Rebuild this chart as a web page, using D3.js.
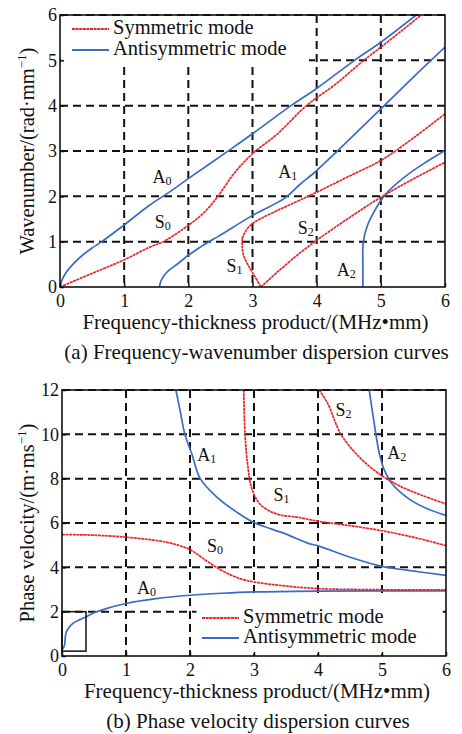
<!DOCTYPE html>
<html>
<head>
<meta charset="utf-8">
<script src="https://cdn.jsdelivr.net/npm/d3@7"></script>
<style>
  body { margin: 0; background: #fff; }
  text { font-family: "Liberation Serif", "Times New Roman", serif; fill: #111; }
</style>
</head>
<body>
<div id="chart"></div>
<script>
// Frequency-thickness product (MHz·mm) vs wavenumber (rad/mm)
const topA0 = [[0,0],[0.03,0.15],[0.1,0.33],[0.2,0.5],[0.35,0.7],[0.5,0.86],[0.65,1.0],[1,1.37],[1.4,1.81],[1.68,2.07],[2,2.39],[2.64,3.02],[3,3.38],[3.6,4.0],[4,4.38],[4.59,5.0],[5,5.4],[5.55,6.0]];
const topS0 = [[0,0],[0.5,0.3],[1,0.6],[1.4,0.88],[1.61,1.0],[2,1.36],[2.25,1.65],[2.45,1.98],[2.71,2.5],[3,2.94],[3.39,3.38],[3.84,4.0],[4.3,4.48],[4.7,4.96],[5.1,5.4],[5.63,6.0]];
const topA1 = [[1.55,0],[1.57,0.12],[1.62,0.25],[1.7,0.37],[1.85,0.53],[2,0.7],[2.32,1.0],[2.45,1.1],[3,1.58],[3.49,1.95],[3.73,2.25],[4,2.57],[4.33,3.01],[5,3.93],[5.5,4.62],[6,5.29]];
const topS1 = [[2.84,1.07],[2.88,1.2],[2.92,1.29],[3.02,1.42],[3.13,1.51],[3.39,1.69],[3.73,1.91],[4,2.09],[4.5,2.44],[5,2.79],[5.5,3.28],[6,3.82]];
const topS1back = [[3.13,0],[3.03,0.25],[2.92,0.51],[2.86,0.7],[2.84,0.88],[2.84,1.07]];
const topS2 = [[3.13,0],[3.42,0.37],[3.73,0.74],[4,1.03],[4.5,1.52],[5,1.98],[5.5,2.38],[6,2.75]];
const topA2 = [[4.72,0],[4.72,0.5],[4.72,0.88],[4.74,1.1],[4.79,1.35],[4.85,1.54],[5,1.91],[5.13,2.13],[5.44,2.5],[5.7,2.75],[6,3.01]];

// Frequency-thickness product vs phase velocity (m/ms)
const botA0 = [[0.01,0.3],[0.04,0.49],[0.06,1.02],[0.1,1.25],[0.17,1.47],[0.27,1.63],[0.38,1.77],[0.5,1.95],[0.69,2.14],[1,2.37],[1.47,2.59],[2,2.74],[2.5,2.83],[3,2.89],[4,2.93],[5,2.94],[6,2.94]];
const botS0 = [[0,5.48],[0.5,5.45],[1,5.36],[1.5,5.2],[1.74,5.06],[2,4.8],[2.25,4.31],[2.49,3.87],[2.78,3.49],[3,3.34],[3.52,3.15],[4,3.04],[5,2.99],[6,2.98]];
const botA1 = [[1.78,12],[1.85,11],[1.92,10],[2.03,9.1],[2.16,8.0],[2.42,7.17],[2.73,6.49],[3,6.02],[3.5,5.5],[3.86,5.07],[4,4.97],[4.54,4.42],[5,4.04],[5.39,3.87],[6,3.64]];
const botS1 = [[2.84,12],[2.86,10],[2.9,8.66],[2.96,7.61],[3.09,6.86],[3.35,6.41],[3.7,6.25],[4,6.08],[4.5,5.88],[4.98,5.66],[5.5,5.35],[6,4.98]];
const botS2 = [[4.02,12],[4.15,11.4],[4.36,10],[4.65,8.96],[4.96,8.21],[5.27,7.68],[5.63,7.24],[6,6.86]];
const botA2 = [[4.8,12],[4.88,10.46],[4.96,9.11],[5.04,8.36],[5.16,7.76],[5.42,7.09],[5.7,6.65],[6,6.34]];

const xTicks = [0,1,2,3,4,5,6];
const topYTicks = [0,1,2,3,4,5,6];
const botYTicks = [0,2,4,6,8,10,12];

// mode labels: [letter, subscript, x centre, y centre] in data units
const topLabels = [["A","0",1.59,2.39],["S","0",1.6,1.4],["A","1",3.55,2.5],["S","1",2.72,0.41],["S","2",3.83,1.25],["A","2",4.46,0.33]];
const botLabels = [["A","1",2.26,8.99],["S","1",3.43,7.19],["S","2",4.4,11.02],["A","2",5.23,9.07],["S","0",2.39,4.86],["A","0",1.32,2.98]];

const RED = "#e8262b";
const BLUE = "#3a6cc2";

const svg = d3.select("#chart").append("svg")
  .attr("width", 462).attr("height", 734);

function drawPanel(opt) {
  const x = d3.scaleLinear().domain([0, 6]).range([opt.left, opt.right]);
  const y = d3.scaleLinear().domain([0, opt.yMax]).range([opt.bottom, opt.top]);
  const g = svg.append("g");

  // grid
  g.selectAll(".vgrid").data(xTicks.slice(1, -1)).enter().append("line")
    .attr("x1", d => x(d)).attr("x2", d => x(d))
    .attr("y1", opt.top).attr("y2", opt.bottom)
    .attr("stroke", "#111").attr("stroke-width", 2).attr("stroke-dasharray", "8,5");
  g.selectAll(".hgrid").data(opt.yTicks.slice(1)).enter().append("line")
    .attr("x1", opt.left).attr("x2", opt.right)
    .attr("y1", d => y(d)).attr("y2", d => y(d))
    .attr("stroke", "#111").attr("stroke-width", 2).attr("stroke-dasharray", "8,5");

  // legend background hides grid under it
  g.append("rect")
    .attr("x", x(opt.legBox[0])).attr("y", y(opt.legBox[1]))
    .attr("width", x(opt.legBox[2]) - x(opt.legBox[0]))
    .attr("height", y(opt.legBox[3]) - y(opt.legBox[1]))
    .attr("fill", "#fff");

  // curves
  const clipId = "clip" + opt.id;
  svg.append("clipPath").attr("id", clipId).append("rect")
    .attr("x", opt.left).attr("y", opt.top)
    .attr("width", opt.right - opt.left).attr("height", opt.bottom - opt.top);
  const line = d3.line().x(d => x(d[0])).y(d => y(d[1])).curve(d3.curveCatmullRom.alpha(0.5));
  const cg = g.append("g").attr("clip-path", `url(#${clipId})`);
  opt.series.forEach(s => {
    cg.append("path").datum(s.data)
      .attr("d", line)
      .attr("fill", "none")
      .attr("stroke", s.color)
      .attr("stroke-width", 1.7)
      .attr("stroke-dasharray", s.color === RED ? "3,0.6" : null);
  });

  // frame
  g.append("rect")
    .attr("x", opt.left).attr("y", opt.top)
    .attr("width", opt.right - opt.left).attr("height", opt.bottom - opt.top)
    .attr("fill", "none").attr("stroke", "#111").attr("stroke-width", 1.6);

  // axes
  g.append("g")
    .attr("transform", `translate(0,${opt.bottom})`)
    .call(d3.axisBottom(x).tickValues(xTicks).tickSize(-4).tickPadding(7).tickFormat(d3.format("d")))
    .call(a => a.select(".domain").remove())
    .call(a => a.selectAll("line").attr("stroke", "#111").attr("stroke-width", 1.5))
    .call(a => a.selectAll("text").attr("font-size", 18));
  g.append("g")
    .attr("transform", `translate(${opt.left},0)`)
    .call(d3.axisLeft(y).tickValues(opt.yTicks).tickSize(-4).tickPadding(3).tickFormat(d3.format("d")))
    .call(a => a.select(".domain").remove())
    .call(a => a.selectAll("line").attr("stroke", "#111").attr("stroke-width", 1.5))
    .call(a => a.selectAll("text").attr("font-size", 18));

  // mode labels
  opt.labels.forEach(l => {
    const t = g.append("text").attr("x", x(l[2])).attr("y", y(l[3]))
      .attr("font-size", 18).attr("text-anchor", "middle").attr("dominant-baseline", "middle");
    t.append("tspan").text(l[0]);
    t.append("tspan").attr("font-size", 12).attr("dy", 3).text(l[1]);
  });

  // legend
  const lg = g.append("g");
  [["Symmetric mode", RED], ["Antisymmetric mode", BLUE]].forEach((d, i) => {
    const yy = opt.legY + i * opt.legGap;
    lg.append("line").attr("x1", opt.legX).attr("x2", opt.legX + 37)
      .attr("y1", yy).attr("y2", yy).attr("stroke", d[1]).attr("stroke-width", 1.8)
      .attr("stroke-dasharray", d[1] === RED ? "3,0.6" : null);
    lg.append("text").attr("x", opt.legX + 41).attr("y", yy)
      .attr("dominant-baseline", "middle").attr("font-size", 20.5).text(d[0]);
  });

  // axis titles
  g.append("text")
    .attr("x", (opt.left + opt.right) / 2 + 3).attr("y", opt.bottom + 42)
    .attr("text-anchor", "middle").attr("font-size", 21)
    .text("Frequency-thickness product/(MHz\u2022mm)");
  g.append("text")
    .attr("x", (opt.left + opt.right) / 2 + 4).attr("y", opt.bottom + 72)
    .attr("text-anchor", "middle").attr("font-size", 21)
    .text(opt.caption);
  const yt = g.append("text")
    .attr("transform", `translate(34,${(opt.top + opt.bottom) / 2}) rotate(-90)`)
    .attr("text-anchor", "middle").attr("font-size", 20.5);
  yt.append("tspan").text(opt.yTitle);
  yt.append("tspan").attr("font-size", 13).attr("dy", -8).text("\u22121");
  yt.append("tspan").attr("dy", 8).text(")");

  return { x, y, g };
}

drawPanel({
  id: "a", left: 60, right: 445, top: 15, bottom: 287, yMax: 6, yTicks: topYTicks,
  series: [
    { data: topA0, color: BLUE }, { data: topA1, color: BLUE }, { data: topA2, color: BLUE },
    { data: topS0, color: RED }, { data: topS1back, color: RED }, { data: topS1, color: RED }, { data: topS2, color: RED }
  ],
  labels: topLabels,
  legBox: [0.02, 5.98, 3.88, 4.95], legX: 72, legY: 29, legGap: 21,
  caption: "(a) Frequency-wavenumber dispersion curves",
  yTitle: "Wavenumber/(rad\u00b7mm"
});

const bot = drawPanel({
  id: "b", left: 62, right: 446, top: 390, bottom: 656, yMax: 12, yTicks: botYTicks,
  series: [
    { data: botA0, color: BLUE }, { data: botA1, color: BLUE }, { data: botA2, color: BLUE },
    { data: botS0, color: RED }, { data: botS1, color: RED }, { data: botS2, color: RED }
  ],
  labels: botLabels,
  legBox: [2.1, 2.7, 5.95, 0.1], legX: 202, legY: 618, legGap: 20,
  caption: "(b) Phase velocity dispersion curves",
  yTitle: "Phase velocity/(m\u00b7ms"
});

// small zoom box near the origin of panel (b)
bot.g.append("rect")
  .attr("x", bot.x(0)).attr("y", bot.y(2))
  .attr("width", bot.x(0.375) - bot.x(0)).attr("height", bot.y(0.22) - bot.y(2))
  .attr("fill", "none").attr("stroke", "#111").attr("stroke-width", 1.5);
</script>
</body>
</html>
